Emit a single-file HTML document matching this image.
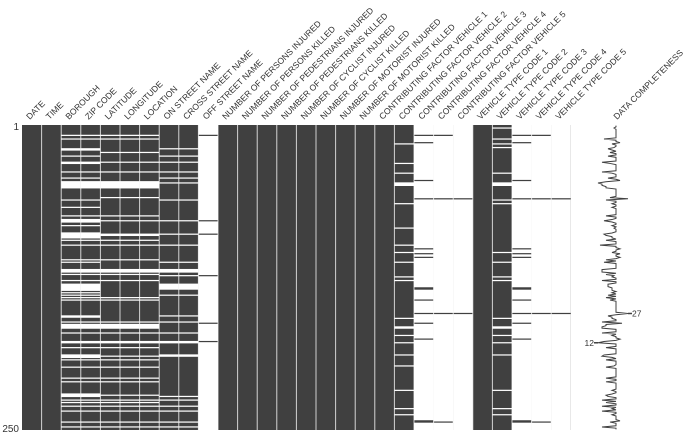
<!DOCTYPE html>
<html><head><meta charset="utf-8"><style>
html,body{margin:0;padding:0;background:#fff;}
svg{display:block;font-family:"Liberation Sans",sans-serif;}
</style></head><body>
<svg id="chart" width="690" height="433" viewBox="0 0 690 433" xmlns="http://www.w3.org/2000/svg"></svg>
<script>
const columnNames = ["DATE","TIME","BOROUGH","ZIP CODE","LATITUDE","LONGITUDE","LOCATION","ON STREET NAME","CROSS STREET NAME","OFF STREET NAME","NUMBER OF PERSONS INJURED","NUMBER OF PERSONS KILLED","NUMBER OF PEDESTRIANS INJURED","NUMBER OF PEDESTRIANS KILLED","NUMBER OF CYCLIST INJURED","NUMBER OF CYCLIST KILLED","NUMBER OF MOTORIST INJURED","NUMBER OF MOTORIST KILLED","CONTRIBUTING FACTOR VEHICLE 1","CONTRIBUTING FACTOR VEHICLE 2","CONTRIBUTING FACTOR VEHICLE 3","CONTRIBUTING FACTOR VEHICLE 4","CONTRIBUTING FACTOR VEHICLE 5","VEHICLE TYPE CODE 1","VEHICLE TYPE CODE 2","VEHICLE TYPE CODE 3","VEHICLE TYPE CODE 4","VEHICLE TYPE CODE 5"];
const rowCount = 250;
const missBoroughZip = [8,11,19,20,25,30,31,38,43,46,47,48,49,50,51,61,67,74,77,78,79,82,88,89,90,91,92,94,98,110,112,118,119,120,122,127,130,131,132,133,134,135,137,139,141,143,156,157,161,163,164,165,166,170,177,178,182,188,189,190,192,198,207,210,220,221,222,225,227,230,234,243,247];
const missLatLonLoc = [8,11,22,30,38,46,47,48,49,50,51,59,74,78,89,90,94,98,110,118,119,120,122,127,141,143,161,163,164,165,166,170,177,178,182,189,192,198,207,210,221,225,227,230,234,243,247];
const missStreets = [19,25,30,38,43,47,61,78,89,98,112,118,119,120,123,130,131,132,133,134,139,156,161,170,177,178,188,189,222,225,230,234,243,247];
const presentOffStreet = [8,78,89,123,162,177];
const missFactor2 = [15,31,39,47,48,49,64,84,98,104,112,124,127,158,165,166,172,178,188,197,217,232,237];
const presentFactor3 = [8,14,45,60,101,105,108,133,134,143,154,162,175,242,243];
const presentFactor4 = [8,60,154,243];
const presentFactor5 = [60,154];
const missType2 = [2,11,15,18,39,47,48,49,61,64,104,112,124,127,158,165,166,172,178,188,217,232,237];
const presentType3 = [8,14,45,60,101,105,108,133,134,143,154,162,175,242,243];
const presentType4 = [8,60,154,243];
const presentType5 = [60,154];

const svg = document.getElementById('chart');
const NS = 'http://www.w3.org/2000/svg';
const X0 = 22, COLW = 19.6, Y0 = 125, Y1 = 430;
const rowH = (Y1 - Y0) / rowCount;
function xCol(i){ return X0 + i * COLW; }
function yRow(r){ return Y0 + r * rowH; }
function inv(list){ const s=new Set(list); const o=[]; for(let r=0;r<rowCount;r++) if(!s.has(r)) o.push(r); return o; }
function runs(list){ const s=[...list].sort((a,b)=>a-b); const o=[]; let st=null, pv=null; s.forEach(r=>{ if(st===null){st=r;pv=r;} else if(r===pv+1){pv=r;} else {o.push([st,pv]); st=r; pv=r;} }); if(st!==null) o.push([st,pv]); return o; }

const missing = columnNames.map(()=>[]);
missing[2]=missBoroughZip; missing[3]=missBoroughZip;
missing[4]=missLatLonLoc; missing[5]=missLatLonLoc; missing[6]=missLatLonLoc;
missing[7]=missStreets; missing[8]=missStreets;
missing[9]=inv(presentOffStreet);
missing[19]=missFactor2; missing[20]=inv(presentFactor3); missing[21]=inv(presentFactor4); missing[22]=inv(presentFactor5);
missing[24]=missType2; missing[25]=inv(presentType3); missing[26]=inv(presentType4); missing[27]=inv(presentType5);

function mk(tag, attrs){ const e=document.createElementNS(NS,tag); for(const k in attrs) e.setAttribute(k,attrs[k]); return e; }

const gM = mk('g',{});


svg.appendChild(gM);
columnNames.forEach((name,i)=>{
  const col = mk('rect',{x:xCol(i),y:Y0,width:COLW,height:Y1-Y0,fill:'#404040'});
  
  
  gM.appendChild(col);
  runs(missing[i]).forEach(([a,b])=>{
    const c = mk('rect',{x:xCol(i),y:yRow(a),width:COLW,height:(b-a+1)*rowH,fill:'#ffffff'});
    
    
    gM.appendChild(c);
  });
  const t = mk('text',{x:xCol(i)+COLW/2-2,y:Y0-5,'font-size':'8.6',fill:'#333',transform:`rotate(-45 ${xCol(i)+COLW/2-2} ${Y0-5})`});
  t.textContent = name;
  
  
  svg.appendChild(t);
});
for(let i=1;i<columnNames.length;i++){
  const l = mk('line',{x1:xCol(i),x2:xCol(i),y1:Y0,y2:Y1,stroke:'#ffffff','stroke-width':1,'stroke-opacity':0.75});
  
  
  gM.appendChild(l);
}
const t1 = mk('text',{x:19,y:130,'font-size':'10','text-anchor':'end',fill:'#333'});
t1.textContent='1';


svg.appendChild(t1);
const t2 = mk('text',{x:19,y:432,'font-size':'10','text-anchor':'end',fill:'#333'});
t2.textContent='250';


svg.appendChild(t2);

const completeness = [];
for(let r=0;r<rowCount;r++){ let c=columnNames.length; missing.forEach(m=>{ if(m.includes(r)) c--; }); completeness.push(c); }
const cMin = Math.min(...completeness), cMax = Math.max(...completeness);
function xs(v){ return 598 + (v - cMin) * (30 / Math.max(1,(cMax - cMin))); }
let pts = completeness.map((v,r)=>xs(v).toFixed(2)+','+(yRow(r)+rowH/2).toFixed(2)).join(' ');
const pl = mk('polyline',{points:pts,fill:'none',stroke:'#404040','stroke-width':1});


svg.appendChild(pl);
const maxRow = completeness.lastIndexOf(cMax), minRow = completeness.lastIndexOf(cMin);
const ym = yRow(maxRow)+rowH/2, yn = yRow(minRow)+rowH/2;
const lm = mk('line',{x1:xs(cMax),x2:xs(cMax)+4,y1:ym,y2:ym,stroke:'#404040','stroke-width':1.5});


svg.appendChild(lm);
const tm = mk('text',{x:xs(cMax)+4,y:ym+3,'font-size':'8.5',fill:'#333'});
tm.textContent=String(cMax);


svg.appendChild(tm);
const ln = mk('line',{x1:xs(cMin)-4,x2:xs(cMin),y1:yn,y2:yn,stroke:'#404040','stroke-width':1.5});


svg.appendChild(ln);
const tn = mk('text',{x:xs(cMin)-4,y:yn+3,'font-size':'8.5','text-anchor':'end',fill:'#333'});
tn.textContent=String(cMin);


svg.appendChild(tn);
const td = mk('text',{x:617,y:Y0-5,'font-size':'8.6',fill:'#333',transform:`rotate(-45 617 ${Y0-5})`});
td.textContent='DATA COMPLETENESS';


svg.appendChild(td);
</script>
</body></html>
